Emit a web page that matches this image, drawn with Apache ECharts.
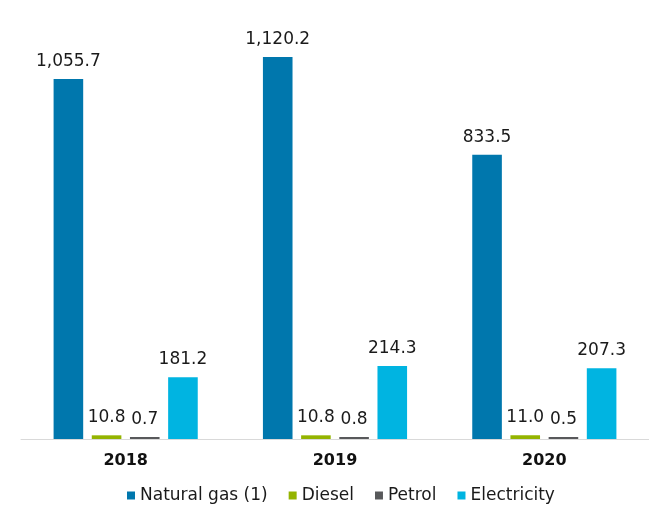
<!DOCTYPE html>
<html><head><meta charset="utf-8">
<script src="https://cdn.jsdelivr.net/npm/echarts@6/dist/echarts.min.js"></script>
<style>html,body{margin:0;padding:0;background:#fff}#c{width:649px;height:508px}</style>
</head><body><div id="c"></div>
<script>
var categories = ['2018', '2019', '2020'];
var naturalGas = [1055.7, 1120.2, 833.5];
var diesel = [10.8, 10.8, 11.0];
var petrol = [0.7, 0.8, 0.5];
var electricity = [181.2, 214.3, 207.3];
var seriesNames = ['Natural gas (1)', 'Diesel', 'Petrol', 'Electricity'];
var colors = ['#0077ad', '#94b400', '#58595b', '#00b4e1'];
var font = "'DejaVu Sans', sans-serif";
function fmt(v){ return v.toLocaleString('en-US',{minimumFractionDigits:1,maximumFractionDigits:1}); }
var chart = echarts.init(document.getElementById('c'));
var datas = [naturalGas, diesel, petrol, electricity];
chart.setOption({
  animation: false,
  textStyle: {fontFamily: font},
  grid: {left: 21, right: -6, top: 20, bottom: 69},
  legend: {
    top: 487, left: 127, itemWidth: 8, itemHeight: 8, itemGap: 21,
    icon: 'rect', padding: 0,
    textStyle: {fontFamily: font, fontSize: 17, color: '#1a1a1a'},
    data: seriesNames
  },
  xAxis: {
    type: 'category', data: categories,
    axisLine: {lineStyle: {color: '#d9d9d9', width: 1}},
    axisTick: {show: false},
    axisLabel: {fontFamily: font, fontSize: 16, fontWeight: 'bold', color: '#111', margin: 14}
  },
  yAxis: {type: 'value', min: 0, max: 1229, show: false, splitLine: {show: false}},
  series: seriesNames.map(function(n, i){
    return {
      name: n, type: 'bar', data: datas[i], barWidth: 29.6, barGap: '29%',
      barMinHeight: i === 2 ? 2 : 0,
      itemStyle: {color: colors[i]},
      label: {show: true, position: 'top', distance: 9, fontFamily: font, fontSize: 17, color: '#1a1a1a',
        formatter: function(p){ return fmt(p.value); }}
    };
  })
});
</script></body></html>
